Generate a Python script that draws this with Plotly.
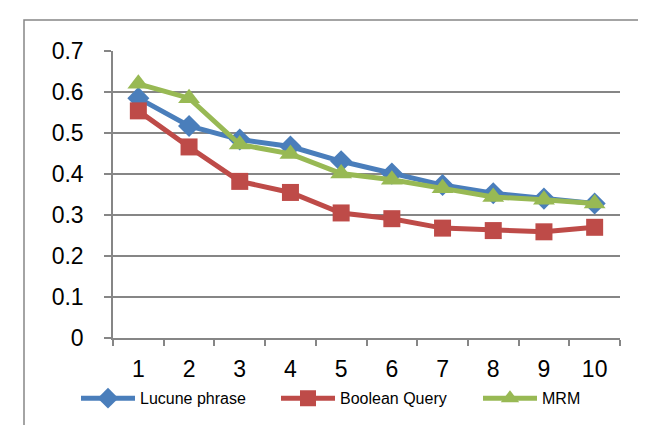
import plotly.graph_objects as go

categories = ["1", "2", "3", "4", "5", "6", "7", "8", "9", "10"]
lucune_phrase = [0.585, 0.517, 0.484, 0.467, 0.431, 0.401, 0.373, 0.353, 0.340, 0.328]
boolean_query = [0.554, 0.466, 0.382, 0.355, 0.305, 0.291, 0.268, 0.262, 0.259, 0.270]
mrm = [0.620, 0.585, 0.472, 0.449, 0.401, 0.386, 0.365, 0.344, 0.337, 0.328]
y_ticks = [0, 0.1, 0.2, 0.3, 0.4, 0.5, 0.6, 0.7]
y_tick_labels = ["0", "0.1", "0.2", "0.3", "0.4", "0.5", "0.6", "0.7"]

FONT = "Liberation Sans"
PLOT_L, PLOT_W = 105, 507

fig = go.Figure()
fig.add_trace(go.Scatter(
    x=categories, y=lucune_phrase, name="Lucune phrase", mode="lines+markers",
    line=dict(color="#4A7EBB", width=5),
    marker=dict(symbol="diamond", size=17, color="#4A7EBB"),
    legend="legend",
))
fig.add_trace(go.Scatter(
    x=categories, y=boolean_query, name="Boolean Query", mode="lines+markers",
    line=dict(color="#BE4B48", width=5),
    marker=dict(symbol="square", size=17, color="#BE4B48"),
    legend="legend2",
))
fig.add_trace(go.Scatter(
    x=categories, y=mrm, name="MRM", mode="lines+markers",
    line=dict(color="#98B954", width=5),
    marker=dict(symbol="triangle-up", size=19, color="#98B954"),
    legend="legend3",
))

def legend_at(px):
    return dict(
        orientation="h", x=(px - PLOT_L) / PLOT_W, xanchor="left",
        y=-0.21, yanchor="middle",
        font=dict(family=FONT, size=16, color="black"),
        itemwidth=54, bgcolor="rgba(0,0,0,0)",
    )

fig.update_layout(
    width=646, height=425,
    margin=dict(l=105, r=34, t=43, b=95, autoexpand=False),
    paper_bgcolor="white", plot_bgcolor="white",
    font=dict(family=FONT, color="black"),
    showlegend=True,
    legend=legend_at(68),
    legend2=legend_at(268),
    legend3=legend_at(470),
    xaxis=dict(
        type="category", tickson="boundaries", ticks="outside", ticklen=6,
        tickcolor="#868686", tickwidth=1.5,
        showline=True, linecolor="#868686", linewidth=1.5,
        showgrid=False, zeroline=False,
        tickfont=dict(family=FONT, size=23),
        ticklabelstandoff=10,
        range=[-0.5, 9.5],
    ),
    yaxis=dict(
        range=[0, 0.7], tickvals=y_ticks, ticktext=y_tick_labels,
        showgrid=True, gridcolor="#868686", gridwidth=1.5,
        showline=True, linecolor="#868686", linewidth=1.5,
        ticks="outside", ticklen=7, tickcolor="#868686", tickwidth=1.5,
        zeroline=False,
        tickfont=dict(family=FONT, size=23),
        ticklabelstandoff=16,
    ),
)

# outer chart frame
fig.add_shape(type="rect", xref="paper", yref="paper",
              x0=(16 - PLOT_L) / PLOT_W, x1=(643 - PLOT_L) / PLOT_W,
              y0=(330 - 440) / 287, y1=(330 - 12) / 287,
              line=dict(color="#868686", width=1.5), layer="below")

fig.write_html("out.html")
